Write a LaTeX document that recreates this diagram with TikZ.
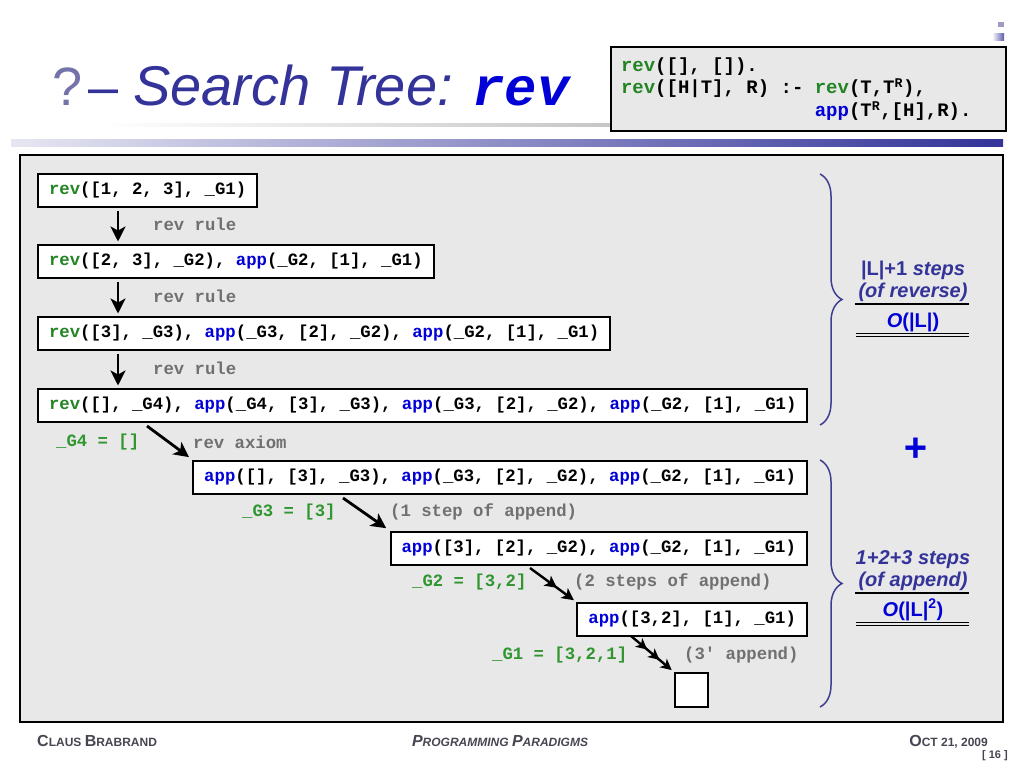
\documentclass[tikz,border=0pt]{standalone}
\usepackage{fontspec}
\setsansfont{Liberation Sans}
\setmonofont{Liberation Mono}
\usepackage{xcolor}
\usepackage{tikz}
\usetikzlibrary{arrows.meta, decorations.pathreplacing}

\definecolor{revgreen}{RGB}{34,132,34}
\definecolor{bindgreen}{RGB}{48,150,48}
\definecolor{appblue}{RGB}{0,0,215}
\definecolor{notegray}{RGB}{112,112,112}
\definecolor{titleblue}{RGB}{51,51,153}
\definecolor{promptgray}{RGB}{115,115,170}
\definecolor{panelgray}{RGB}{232,232,232}
\definecolor{bracepurple}{RGB}{62,62,145}
\definecolor{footgray}{RGB}{70,70,82}

\newcommand{\codefont}{\ttfamily\bfseries\fontsize{17.3}{20}\selectfont}
\newcommand{\revk}{\textcolor{revgreen}{rev}}
\newcommand{\appk}{\textcolor{appblue}{app}}
\newcommand{\fsc}[2]{{\fontsize{16}{16}\selectfont #1}{\fontsize{12}{12}\selectfont #2}}

\begin{document}
\begin{tikzpicture}[x=1pt, y=-1pt,
  goalbox/.style={draw, line width=2pt, fill=white, inner xsep=11pt, inner ysep=0pt,
    minimum height=33pt, font=\codefont},
  rulenote/.style={anchor=west, inner sep=0pt, font=\codefont, text=notegray},
  bindnote/.style={anchor=west, inner sep=0pt, font=\codefont, text=bindgreen},
  steparr/.style={line width=2.8pt, -{Stealth[length=15pt,width=15pt,inset=4pt]}},
  twoarr/.style={line width=2.4pt, -{Stealth[length=12pt,width=12pt,inset=3pt,sep=9pt] Stealth[length=12pt,width=12pt,inset=3pt]}},
  threearr/.style={line width=2.4pt, -{Stealth[length=11pt,width=11pt,inset=3pt,sep=5pt] Stealth[length=11pt,width=11pt,inset=3pt,sep=5pt] Stealth[length=11pt,width=11pt,inset=3pt]}},
  costbrace/.style={bracepurple, line width=1.5pt, decorate, decoration={brace, amplitude=22pt}},
  costtxt/.style={anchor=base, inner sep=0pt, font=\sffamily\bfseries\fontsize{20}{22}\selectfont, text=titleblue},
  bigo/.style={costtxt, text=appblue},
  footer/.style={inner sep=0pt, font=\sffamily\bfseries\fontsize{12}{12}\selectfont, text=footgray}]
  \useasboundingbox (0,0) rectangle (1024,768);

  % title
  \fill[promptgray!70] (998,22) rectangle (1004,27);
  \shade[left color=white, right color=titleblue!80] (992,34) rectangle (1004,41);
  \shade[left color=white, right color=gray!45] (100,123) rectangle (610,126);
  \shade[left color=titleblue!12, right color=titleblue] (11,139) rectangle (1003,146);
  \node[anchor=base west, inner sep=0pt, font=\sffamily\fontsize{54}{54}\selectfont] (prompt) at (52,105)
    {\textcolor{promptgray}{?}\hspace{6pt}\textcolor{titleblue}{–}};
  \node[anchor=base west, inner sep=0pt, font=\sffamily\itshape\fontsize{56}{56}\selectfont, text=titleblue] (title) at (133,105) {Search Tree:};
  \node[anchor=base west, inner sep=0pt, font=\ttfamily\bfseries\itshape\fontsize{54}{54}\selectfont, text=appblue] (titlerev) at (472,105) {rev};
  \node[draw, line width=2pt, fill=panelgray, anchor=north west, text width=375pt, minimum height=84pt,
    inner xsep=10pt, align=left, font=\ttfamily\bfseries\fontsize{19}{22.5}\selectfont] (rules) at (610,46)
    {\spaceskip=0pt \xspaceskip=0pt
     \revk([], []).\\
     \revk([H|T], R) :- \revk(T,T\textsuperscript{R}),\\
     \hphantom{rev([H|T], R) :- }\appk(T\textsuperscript{R},[H],R).};

  % search tree
  \draw[line width=2pt, fill=panelgray] (20,155) rectangle (1003,722);

  \node[goalbox, anchor=west] (g1) at (37,190) {\revk([1, 2, 3], \_G1)};
  \node[goalbox, anchor=west] (g2) at (37,261) {\revk([2, 3], \_G2), \appk(\_G2, [1], \_G1)};
  \node[goalbox, anchor=west] (g3) at (37,333) {\revk([3], \_G3), \appk(\_G3, [2], \_G2), \appk(\_G2, [1], \_G1)};
  \node[goalbox, anchor=west] (g4) at (37,405) {\revk([], \_G4), \appk(\_G4, [3], \_G3), \appk(\_G3, [2], \_G2), \appk(\_G2, [1], \_G1)};
  \node[goalbox, anchor=east] (g5) at (808,477) {\appk([], [3], \_G3), \appk(\_G3, [2], \_G2), \appk(\_G2, [1], \_G1)};
  \node[goalbox, anchor=east] (g6) at (808,548) {\appk([3], [2], \_G2), \appk(\_G2, [1], \_G1)};
  \node[goalbox, anchor=east] (g7) at (808,619.5) {\appk([3,2], [1], \_G1)};
  \node[draw, line width=2pt, fill=white, minimum width=33pt, minimum height=34pt, inner sep=0pt] (done) at (691.5,690) {};

  \coordinate (spine) at (118,0);
  \draw[steparr, shorten <=3pt, shorten >=2pt] (g1.south -| spine) -- (g2.north -| spine);
  \draw[steparr, shorten <=3pt, shorten >=2pt] (g2.south -| spine) -- (g3.north -| spine);
  \draw[steparr, shorten <=3pt, shorten >=2pt] (g3.south -| spine) -- (g4.north -| spine);
  \node[rulenote] (r1) at (153,224) {rev rule};
  \node[rulenote] (r2) at (153,296) {rev rule};
  \node[rulenote] (r3) at (153,368) {rev rule};

  \coordinate (s4) at (147,426);
  \coordinate (s5) at (343,498);
  \coordinate (s6) at (530,568);
  \coordinate (s7) at (631,636);
  \draw[steparr, shorten >=4pt] (s4) -- (g5.north west);
  \draw[steparr, shorten >=4pt] (s5) -- (g6.north west);
  \draw[twoarr, shorten >=3pt] (s6) -- (g7.north west);
  \draw[threearr, shorten >=3pt] (s7) -- (done.north west);

  \node[bindnote] (b4) at (56,442) {\_G4 = []};
  \node[rulenote] (n4) at (193,442) {rev axiom};
  \node[bindnote] (b3) at (242,512) {\_G3 = [3]};
  \node[rulenote] (n3) at (390,512) {(1 step of append)};
  \node[bindnote] (b2) at (412,582) {\_G2 = [3,2]};
  \node[rulenote] (n2) at (574,582) {(2 steps of append)};
  \node[bindnote] (b1) at (492,655) {\_G1 = [3,2,1]};
  \node[rulenote] (n1) at (684,655) {(3' append)};

  % costs
  \draw[costbrace] (820,174) -- (820,425);
  \draw[costbrace] (820,460) -- (820,707);
  \node[costtxt] (rc1) at (913,275) {|L|+1 \textit{steps}};
  \node[costtxt] (rc2) at (913,297) {\textit{(of reverse)}};
  \draw[line width=1.2pt] (855,304) -- (969,304);
  \node[bigo] (rc3) at (913,327) {\textit{O}(|L|)};
  \draw[line width=1pt] (856,333) -- (969,333) (856,336) -- (969,336);
  \node[font=\sffamily\bfseries\itshape\fontsize{40}{40}\selectfont, text=appblue, inner sep=0pt] (plus) at (915,450) {+};
  \node[costtxt] (ac1) at (913,564) {\textit{1+2+3 steps}};
  \node[costtxt] (ac2) at (913,586) {\textit{(of append)}};
  \draw[line width=1.2pt] (855,593) -- (969,593);
  \node[bigo] (ac3) at (913,616) {\textit{O}(|L|\textsuperscript{2})};
  \draw[line width=1pt] (856,622) -- (969,622) (856,625) -- (969,625);

  % footer
  \node[footer, anchor=base west] (author) at (37,746) {\fsc{C}{LAUS} \fsc{B}{RABRAND}};
  \node[footer, anchor=base, font=\sffamily\bfseries\itshape\fontsize{12}{12}\selectfont] (course) at (500,746) {\fsc{P}{ROGRAMMING} \fsc{P}{ARADIGMS}};
  \node[footer, anchor=base east] (date) at (988,746) {\fsc{O}{CT 21, 2009}};
  \node[footer, anchor=base east, font=\sffamily\bfseries\fontsize{11}{11}\selectfont] (page) at (1008,758) {[ 16 ]};
\end{tikzpicture}
\end{document}
